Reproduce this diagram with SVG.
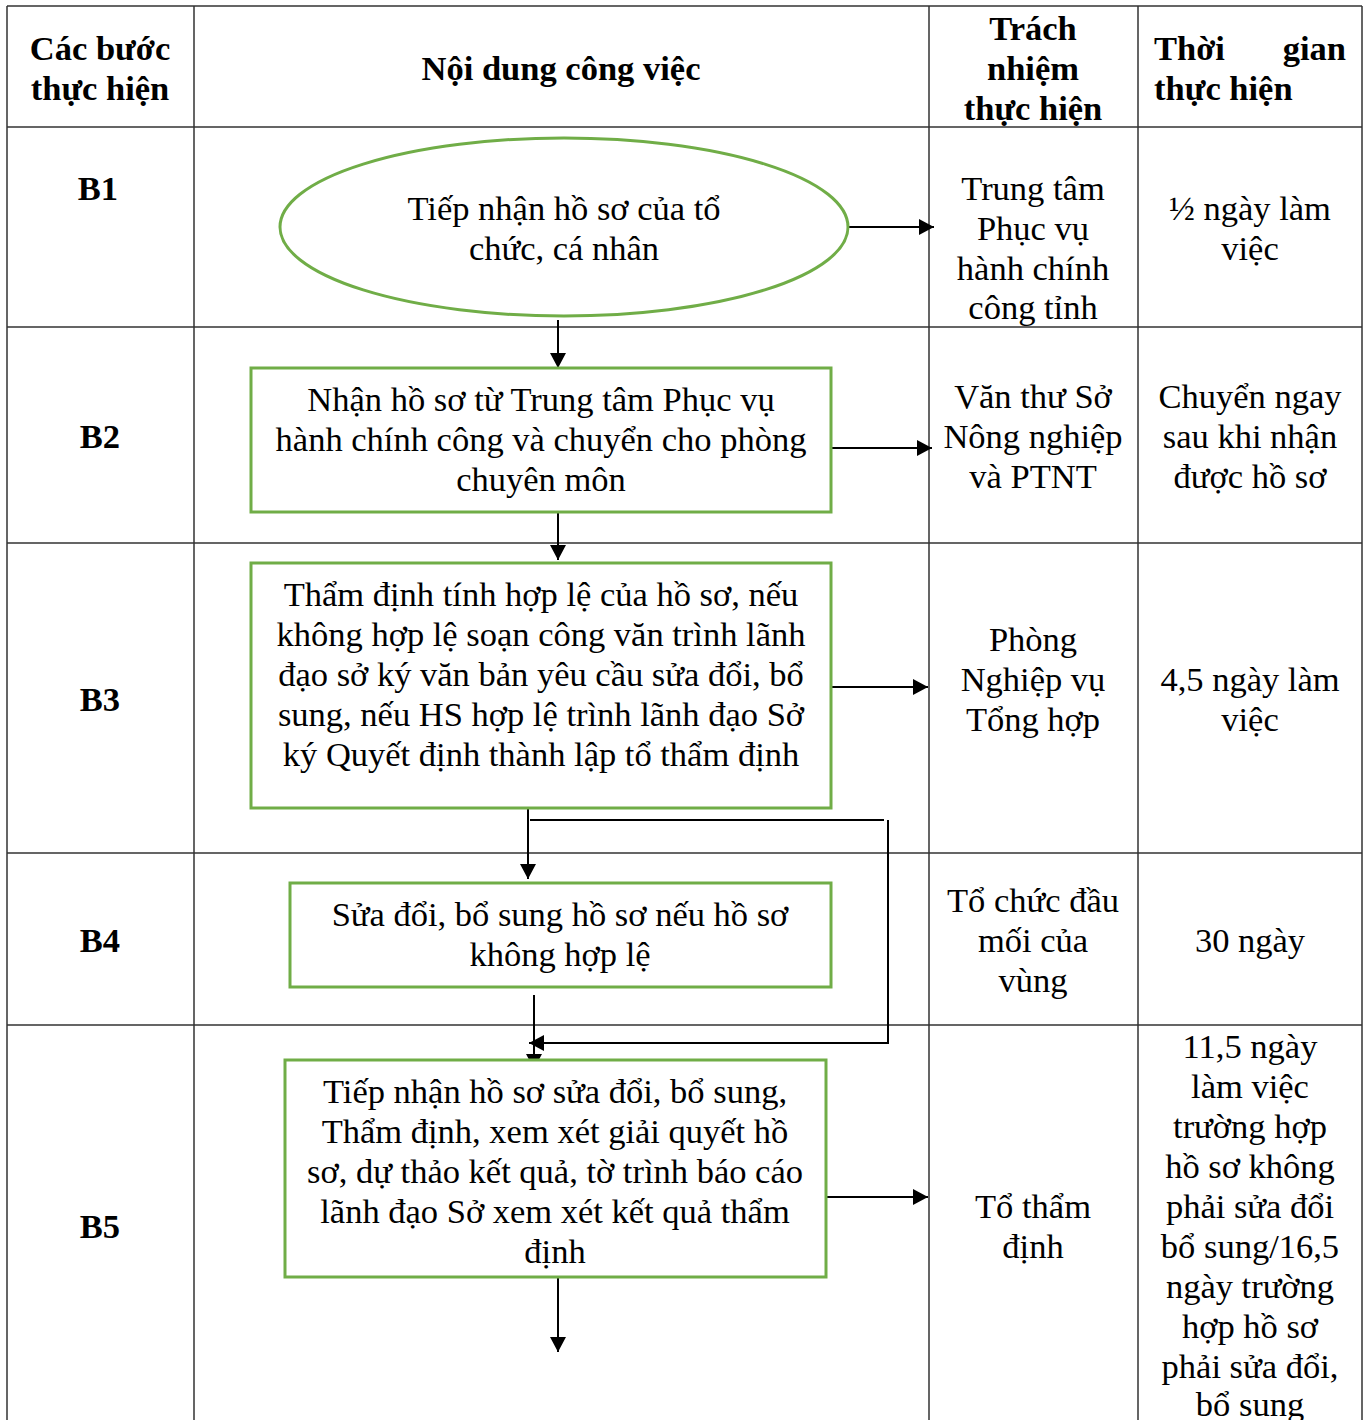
<svg xmlns="http://www.w3.org/2000/svg" width="1368" height="1420" viewBox="0 0 1368 1420" font-family="Liberation Serif">
<defs>
<marker id="ah" viewBox="0 0 15 16" refX="15" refY="8" markerWidth="15" markerHeight="16" markerUnits="userSpaceOnUse" orient="auto">
<path d="M0,0 L15,8 L0,16 z" fill="#000"/>
</marker>
<style>
.grid{stroke:#333;stroke-width:1.5;fill:none}
.node{fill:#fff;stroke:#70AD47;stroke-width:3}
.t{font-size:34.5px;fill:#000}
.h{font-size:34.5px;font-weight:bold;fill:#000}
.c{stroke:#000;stroke-width:2;fill:none}
.ca{stroke:#000;stroke-width:2;fill:none;marker-end:url(#ah)}
</style>
</defs>
<rect width="1368" height="1420" fill="#fff"/>
<g id="table" text-anchor="middle">
<path class="grid" d="M7,6 H1362 M7,127 H1362 M7,327 H1362 M7,543 H1362 M7,853 H1362 M7,1025 H1362 M7,6 V1420 M194,6 V1420 M929,6 V1420 M1138,6 V1420 M1362,6 V1420"/>
<text class="h" x="100" y="60">Các bước</text>
<text class="h" x="100" y="100">thực hiện</text>
<text class="h" x="561" y="80">Nội dung công việc</text>
<text class="h" x="1033" y="40">Trách</text>
<text class="h" x="1033" y="80">nhiệm</text>
<text class="h" x="1033" y="120">thực hiện</text>
<text class="h" x="1154" y="60" text-anchor="start">Thời</text>
<text class="h" x="1346" y="60" text-anchor="end">gian</text>
<text class="h" x="1154" y="100" text-anchor="start">thực hiện</text>
<text class="h" x="98" y="200">B1</text>
<text class="h" x="100" y="448">B2</text>
<text class="h" x="100" y="711">B3</text>
<text class="h" x="100" y="952">B4</text>
<text class="h" x="100" y="1238">B5</text>
<text class="t" x="1033" y="200">Trung tâm</text>
<text class="t" x="1033" y="240">Phục vụ</text>
<text class="t" x="1033" y="280">hành chính</text>
<text class="t" x="1033" y="319">công tỉnh</text>
<text class="t" x="1250" y="220">½ ngày làm</text>
<text class="t" x="1250" y="260">việc</text>
<text class="t" x="1033" y="408">Văn thư Sở</text>
<text class="t" x="1033" y="448">Nông nghiệp</text>
<text class="t" x="1033" y="488">và PTNT</text>
<text class="t" x="1250" y="408">Chuyển ngay</text>
<text class="t" x="1250" y="448">sau khi nhận</text>
<text class="t" x="1250" y="488">được hồ sơ</text>
<text class="t" x="1033" y="651">Phòng</text>
<text class="t" x="1033" y="691">Nghiệp vụ</text>
<text class="t" x="1033" y="731">Tổng hợp</text>
<text class="t" x="1250" y="691">4,5 ngày làm</text>
<text class="t" x="1250" y="731">việc</text>
<text class="t" x="1033" y="912">Tổ chức đầu</text>
<text class="t" x="1033" y="952">mối của</text>
<text class="t" x="1033" y="992">vùng</text>
<text class="t" x="1250" y="952">30 ngày</text>
<text class="t" x="1033" y="1218">Tổ thẩm</text>
<text class="t" x="1033" y="1258">định</text>
<text class="t" x="1250" y="1058">11,5 ngày</text>
<text class="t" x="1250" y="1098">làm việc</text>
<text class="t" x="1250" y="1138">trường hợp</text>
<text class="t" x="1250" y="1178">hồ sơ không</text>
<text class="t" x="1250" y="1218">phải sửa đổi</text>
<text class="t" x="1250" y="1258">bổ sung/16,5</text>
<text class="t" x="1250" y="1298">ngày trường</text>
<text class="t" x="1250" y="1338">hợp hồ sơ</text>
<text class="t" x="1250" y="1378">phải sửa đổi,</text>
<text class="t" x="1250" y="1416">bổ sung</text>
</g>
<g id="connectors">
<path class="ca" d="M848,227 H934"/>
<path class="ca" d="M558,320 V368"/>
<path class="ca" d="M831,448 H932"/>
<path class="ca" d="M558,512 V560"/>
<path class="ca" d="M827,687 H928"/>
<path class="ca" d="M528,808 V879"/>
<path class="c" d="M530,820 H884"/>
<path class="ca" d="M888,820 V1043 H529"/>
<path class="ca" d="M534,995 V1069"/>
<path class="ca" d="M826,1197 H928"/>
<path class="ca" d="M558,1277 V1352"/>
</g>
<g id="n1" text-anchor="middle">
<ellipse class="node" cx="564" cy="227" rx="284" ry="89"/>
<text class="t" x="564" y="220">Tiếp nhận hồ sơ của tổ</text>
<text class="t" x="564" y="260">chức, cá nhân</text>
</g>
<g id="n2" text-anchor="middle">
<rect class="node" x="251" y="368" width="580" height="144"/>
<text class="t" x="541" y="411">Nhận hồ sơ từ Trung tâm Phục vụ</text>
<text class="t" x="541" y="451">hành chính công và chuyển cho phòng</text>
<text class="t" x="541" y="491">chuyên môn</text>
</g>
<g id="n3" text-anchor="middle">
<rect class="node" x="251" y="563" width="580" height="245"/>
<text class="t" x="541" y="606">Thẩm định tính hợp lệ của hồ sơ, nếu</text>
<text class="t" x="541" y="646">không hợp lệ soạn công văn trình lãnh</text>
<text class="t" x="541" y="686">đạo sở ký văn bản yêu cầu sửa đổi, bổ</text>
<text class="t" x="541" y="726">sung, nếu HS hợp lệ trình lãnh đạo Sở</text>
<text class="t" x="541" y="766">ký Quyết định thành lập tổ thẩm định</text>
</g>
<g id="n4" text-anchor="middle">
<rect class="node" x="290" y="883" width="541" height="104"/>
<text class="t" x="560" y="926">Sửa đổi, bổ sung hồ sơ nếu hồ sơ</text>
<text class="t" x="560" y="966">không hợp lệ</text>
</g>
<g id="n5" text-anchor="middle">
<rect class="node" x="285" y="1060" width="541" height="217"/>
<text class="t" x="555" y="1103">Tiếp nhận hồ sơ sửa đổi, bổ sung,</text>
<text class="t" x="555" y="1143">Thẩm định, xem xét giải quyết hồ</text>
<text class="t" x="555" y="1183">sơ, dự thảo kết quả, tờ trình báo cáo</text>
<text class="t" x="555" y="1223">lãnh đạo Sở xem xét  kết quả thẩm</text>
<text class="t" x="555" y="1263">định</text>
</g>
</svg>
